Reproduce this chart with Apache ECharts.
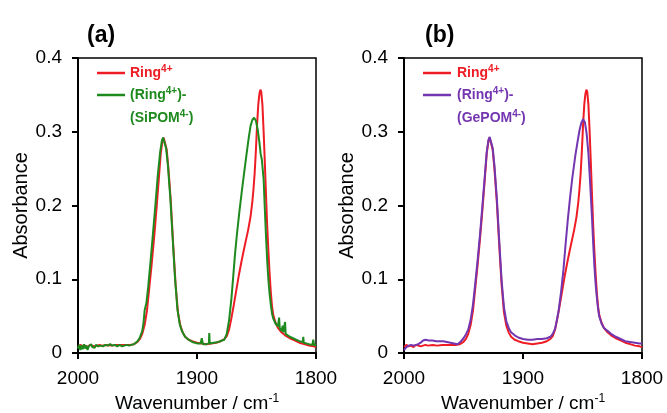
<!DOCTYPE html>
<html>
<head>
<meta charset="utf-8">
<script src="https://cdn.jsdelivr.net/npm/echarts@6/dist/echarts.min.js"></script>
<style>html,body{margin:0;padding:0;background:#fff;}#c{width:667px;height:413px;}</style>
</head>
<body>
<div id="c"></div>
<script>
// ---- data: [wavenumber (cm-1), absorbance] ----
const xTicks = [2000, 1900, 1800];
const yTicks = [0, 0.1, 0.2, 0.3, 0.4];
const panelTitles = ['(a)', '(b)'];
const seriesNames = ['Ring4+', '(Ring4+)-(SiPOM4-)', '(Ring4+)-(GePOM4-)'];

const ring = [
[2000,0.008],[1998,0.011],[1996,0.009],[1994,0.010],[1992,0.008],[1990,0.011],[1988,0.010],[1986,0.009],[1984,0.010],[1982,0.011],[1980,0.010],[1976,0.011],[1972,0.010],[1968,0.011],[1964,0.011],[1960,0.011],[1956,0.011],[1953,0.012],[1950,0.015],[1948,0.019],[1946,0.026],[1944,0.038],[1942,0.058],[1940,0.090],[1938,0.122],[1936,0.157],[1934,0.196],[1932,0.238],[1930.5,0.270],[1929,0.288],[1928,0.292],[1927,0.290],[1925.5,0.276],[1924,0.250],[1922,0.205],[1920,0.147],[1918,0.093],[1916,0.055],[1914,0.037],[1912,0.028],[1910,0.022],[1907,0.018],[1904,0.016],[1900,0.014],[1896,0.013],[1892,0.012],[1888,0.013],[1884,0.014],[1880,0.016],[1877,0.019],[1875,0.023],[1873,0.032],[1871,0.048],[1869,0.066],[1867,0.085],[1865,0.104],[1863,0.121],[1861,0.137],[1859,0.152],[1857,0.167],[1855,0.185],[1853.5,0.205],[1852.5,0.223],[1851.5,0.245],[1850.5,0.275],[1849.5,0.310],[1848.5,0.337],[1847.5,0.352],[1846.7,0.357],[1846,0.354],[1845,0.336],[1844,0.300],[1843,0.258],[1842,0.214],[1841,0.172],[1840,0.138],[1839,0.108],[1838,0.083],[1837,0.064],[1836,0.052],[1834,0.041],[1832,0.034],[1829,0.028],[1826,0.024],[1822,0.020],[1818,0.017],[1814,0.014],[1810,0.012],[1806,0.010],[1802,0.009],[1800,0.008]
];

const ringSiPOM = [
[2000,0.006],[1999,0.011],[1998,0.004],[1997,0.010],[1996,0.005],[1995,0.012],[1994,0.006],[1993,0.010],[1992,0.004],[1991,0.009],[1990,0.007],[1989,0.012],[1988,0.008],[1987,0.010],[1986,0.007],[1985,0.011],[1983,0.009],[1981,0.010],[1979,0.009],[1977,0.011],[1975,0.010],[1973,0.012],[1971,0.010],[1969,0.011],[1967,0.009],[1965,0.011],[1963,0.009],[1961,0.010],[1959,0.011],[1957,0.010],[1955,0.011],[1953,0.012],[1950,0.016],[1948,0.021],[1946,0.030],[1945,0.040],[1944,0.058],[1943.5,0.060],[1942.5,0.068],[1941,0.090],[1939,0.125],[1937,0.162],[1935,0.200],[1933,0.240],[1931,0.272],[1929.5,0.288],[1928.5,0.292],[1927.5,0.290],[1926,0.278],[1924.5,0.255],[1922.5,0.212],[1920.5,0.157],[1918.5,0.102],[1916.5,0.060],[1914.5,0.039],[1912.5,0.029],[1910,0.022],[1907,0.018],[1904,0.015],[1900,0.013],[1897,0.013],[1896,0.020],[1895,0.012],[1892,0.012],[1890,0.013],[1889.7,0.027],[1889.3,0.013],[1886,0.014],[1882,0.015],[1879,0.017],[1877,0.018],[1875,0.026],[1873,0.045],[1871,0.075],[1869.5,0.105],[1868,0.135],[1866.5,0.160],[1864.5,0.190],[1862.5,0.217],[1860.5,0.243],[1858.5,0.268],[1856.5,0.292],[1855,0.308],[1853.5,0.316],[1852,0.319],[1850.5,0.315],[1849,0.303],[1847.5,0.285],[1846.5,0.270],[1845.5,0.262],[1845,0.260],[1844,0.235],[1843,0.195],[1842,0.158],[1841,0.125],[1840,0.099],[1839,0.080],[1838,0.066],[1837,0.054],[1836,0.047],[1834,0.040],[1832,0.036],[1831,0.048],[1830.5,0.034],[1829,0.030],[1828,0.037],[1827.5,0.028],[1826.5,0.027],[1826,0.042],[1825.5,0.026],[1822,0.022],[1818,0.019],[1814,0.016],[1811,0.015],[1810.7,0.022],[1810.3,0.014],[1806,0.012],[1803,0.011],[1802.3,0.018],[1801.5,0.010],[1800,0.012]
];

const ringGePOM = [
[2000,0.004],[1998,0.008],[1996,0.010],[1994,0.011],[1992,0.010],[1990,0.011],[1988,0.012],[1986,0.014],[1984,0.017],[1982,0.018],[1979,0.017],[1976,0.017],[1973,0.016],[1970,0.016],[1967,0.016],[1964,0.015],[1961,0.014],[1958,0.013],[1955,0.012],[1952,0.016],[1950,0.020],[1948,0.025],[1946,0.032],[1944,0.045],[1942,0.066],[1940,0.096],[1938,0.128],[1936,0.163],[1934,0.202],[1932,0.242],[1930.5,0.272],[1929,0.289],[1928,0.293],[1927,0.291],[1925.5,0.278],[1924,0.254],[1922,0.210],[1920,0.153],[1918,0.099],[1916,0.062],[1914,0.043],[1912,0.034],[1910,0.028],[1907,0.024],[1904,0.021],[1900,0.019],[1896,0.018],[1892,0.018],[1888,0.019],[1884,0.019],[1880,0.020],[1877,0.022],[1875,0.026],[1873,0.033],[1871.5,0.045],[1870,0.058],[1868,0.083],[1866,0.113],[1864.5,0.142],[1862.5,0.178],[1860.5,0.210],[1858.5,0.238],[1856,0.268],[1854,0.288],[1852.5,0.302],[1851,0.312],[1849.5,0.317],[1848,0.313],[1846.5,0.297],[1845,0.270],[1843.5,0.228],[1842,0.183],[1841,0.148],[1840,0.118],[1839,0.094],[1838,0.076],[1837,0.061],[1836,0.050],[1834,0.040],[1832,0.034],[1829,0.030],[1826,0.026],[1822,0.022],[1818,0.019],[1814,0.016],[1810,0.015],[1806,0.014],[1802,0.013],[1800,0.013]
];

const RED = '#ee1c24', GREEN = '#1e8a1e', PURPLE = '#7336b0';
const FONT = 'Liberation Sans, Arial, sans-serif';

function xAxisCfg(i) {
  return {
    gridIndex: i, type: 'value', min: 1800, max: 2000, interval: 100, inverse: true,
    axisLine: { show: true, onZero: false, lineStyle: { color: '#000', width: 2 } },
    axisTick: { show: true, length: 6, lineStyle: { color: '#000', width: 2 } },
    splitLine: { show: false },
    axisLabel: { fontSize: 19, color: '#000', margin: 16, fontFamily: FONT, showMinLabel: true, showMaxLabel: true,
      formatter: v => String(v) },
    name: '{n|Wavenumber / cm}{s|-1}', nameLocation: 'middle', nameGap: 36,
    nameTextStyle: { fontFamily: FONT, color: '#000', fontSize: 19,
      rich: { n: { fontSize: 19, lineHeight: 22, color: '#000', fontFamily: FONT },
              s: { fontSize: 12, verticalAlign: 'top', lineHeight: 14, color: '#000', fontFamily: FONT } } }
  };
}
function yAxisCfg(i) {
  return {
    gridIndex: i, type: 'value', min: 0, max: 0.4, interval: 0.1,
    axisLine: { show: true, lineStyle: { color: '#000', width: 2 } },
    axisTick: { show: true, length: 6, lineStyle: { color: '#000', width: 2 } },
    splitLine: { show: false },
    axisLabel: { fontSize: 19, color: '#000', margin: 16, fontFamily: FONT,
      formatter: v => (v === 0 ? '0' : v.toFixed(1)) },
    name: 'Absorbance', nameLocation: 'middle', nameGap: 45,
    nameTextStyle: { fontSize: 20, color: '#000', fontFamily: FONT }
  };
}
function line(name, data, color, i) {
  return { name, type: 'line', xAxisIndex: i, yAxisIndex: i, data, showSymbol: false, symbol: 'none',
    lineStyle: { color, width: 2 }, itemStyle: { color }, animation: false, clip: true };
}
function legText(x, y, parts, color) {
  return { type: 'text', x, y,
    style: { text: parts, fill: color, fontFamily: FONT, fontSize: 14, fontWeight: 'bold', verticalAlign: 'middle',
      rich: { m: { fontSize: 14, fontWeight: 'bold', fill: color, lineHeight: 17, fontFamily: FONT },
              s: { fontSize: 10, fontWeight: 'bold', fill: color, verticalAlign: 'top', lineHeight: 11, fontFamily: FONT } } } };
}
function legLine(x, y, color) {
  return { type: 'line', shape: { x1: x, y1: y, x2: x + 28, y2: y }, style: { stroke: color, lineWidth: 2.5 } };
}

const chart = echarts.init(document.getElementById('c'), null, { renderer: 'canvas' });
chart.setOption({
  backgroundColor: '#fff',
  animation: false,
  title: [
    { text: panelTitles[0], left: 82, top: 19, textStyle: { fontSize: 23, fontWeight: 'bold', color: '#000', fontFamily: FONT } },
    { text: panelTitles[1], left: 420, top: 19, textStyle: { fontSize: 23, fontWeight: 'bold', color: '#000', fontFamily: FONT } }
  ],
  grid: [
    { left: 78, top: 58, width: 238, height: 295, show: true, borderColor: '#000', borderWidth: 1.5, backgroundColor: 'transparent', outerBoundsMode: 'none', containLabel: false },
    { left: 404, top: 58, width: 238, height: 295, show: true, borderColor: '#000', borderWidth: 1.5, backgroundColor: 'transparent', outerBoundsMode: 'none', containLabel: false }
  ],
  xAxis: [xAxisCfg(0), xAxisCfg(1)],
  yAxis: [yAxisCfg(0), yAxisCfg(1)],
  series: [
    line(seriesNames[0], ring, RED, 0),
    line(seriesNames[1], ringSiPOM, GREEN, 0),
    line(seriesNames[0], ring, RED, 1),
    line(seriesNames[2], ringGePOM, PURPLE, 1)
  ],
  graphic: [
    legLine(97, 73, RED), legText(130, 73, '{m|Ring}{s|4+}', RED),
    legLine(97, 95, GREEN), legText(130, 95, '{m|(Ring}{s|4+}{m|)-}', GREEN), legText(130, 118, '{m|(SiPOM}{s|4-}{m|)}', GREEN),
    legLine(423, 73, RED), legText(457, 73, '{m|Ring}{s|4+}', RED),
    legLine(423, 95, PURPLE), legText(457, 95, '{m|(Ring}{s|4+}{m|)-}', PURPLE), legText(457, 118, '{m|(GePOM}{s|4-}{m|)}', PURPLE)
  ]
});
</script>
</body>
</html>
